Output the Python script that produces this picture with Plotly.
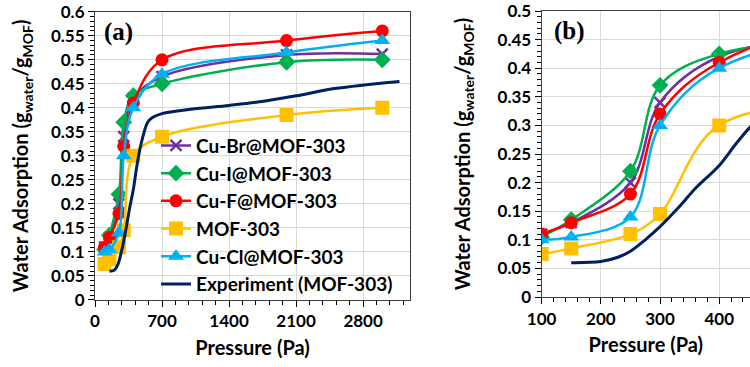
import plotly.graph_objects as go

# ---- data ----
pressure = [100, 150, 250, 300, 400, 700, 2000, 3000]
cu_br = [0.11, 0.13, 0.20, 0.34, 0.42, 0.465, 0.51, 0.512]
cu_i = [0.105, 0.135, 0.22, 0.37, 0.425, 0.45, 0.495, 0.50]
cu_f = [0.11, 0.13, 0.18, 0.32, 0.41, 0.50, 0.54, 0.56]
mof303 = [0.075, 0.085, 0.11, 0.145, 0.30, 0.34, 0.385, 0.40]
cu_cl = [0.10, 0.105, 0.14, 0.30, 0.40, 0.47, 0.515, 0.54]

exp_p = [150, 200, 230, 250, 275, 300, 330, 360, 400, 430, 455, 500, 550, 600, 700, 1000, 1400, 1700, 2100, 2500, 3180]
exp_v = [0.06, 0.062, 0.07, 0.08, 0.10, 0.123, 0.155, 0.19, 0.23, 0.27, 0.30, 0.34, 0.37, 0.38, 0.388, 0.397, 0.405, 0.412, 0.425, 0.44, 0.455]

y_ticks_a = [0, 0.05, 0.1, 0.15, 0.2, 0.25, 0.3, 0.35, 0.4, 0.45, 0.5, 0.55, 0.6]
y_ticks_b = [0, 0.05, 0.1, 0.15, 0.2, 0.25, 0.3, 0.35, 0.4, 0.45, 0.5]
x_ticks_a = [0, 700, 1400, 2100, 2800]
x_ticks_b = [100, 200, 300, 400]

series = [
    ("Cu-Br@MOF-303", cu_br, "#7030A0", "x-thin", 11),
    ("Cu-I@MOF-303", cu_i, "#00B050", "diamond", 13),
    ("Cu-F@MOF-303", cu_f, "#FF0000", "circle", 13),
    ("MOF-303", mof303, "#FFC000", "square", 14),
    ("Cu-Cl@MOF-303", cu_cl, "#00B0F0", "triangle-up", 14),
]
exp_name = "Experiment (MOF-303)"
exp_color = "#002060"

fig = go.Figure()

for panel, (xa, ya) in enumerate([("x", "y"), ("x2", "y2")]):
    for name, vals, color, sym, size in series:
        marker = dict(symbol=sym, size=size, color=color)
        if sym == "x-thin":
            marker["line"] = dict(color=color, width=2.5)
        fig.add_trace(go.Scatter(
            x=pressure, y=vals, name=name, mode="lines+markers",
            line=dict(color=color, width=2.5, shape="spline", smoothing=1),
            marker=marker, xaxis=xa, yaxis=ya, showlegend=(panel == 0),
        ))
    fig.add_trace(go.Scatter(
        x=exp_p, y=exp_v, name=exp_name, mode="lines",
        line=dict(color=exp_color, width=3, shape="spline", smoothing=1),
        xaxis=xa, yaxis=ya, showlegend=(panel == 0),
    ))

tickfont = dict(family="Lato", size=17, color="black", weight="bold")
titlefont = dict(family="Lato", size=20, color="black", weight="bold")
grid = "#D9D9D9"

common = dict(showgrid=True, gridcolor=grid, gridwidth=1, zeroline=False,
              showline=True, linecolor="#404040", linewidth=1.2, mirror=True,
              ticks="outside", ticklen=6, tickcolor="black", tickwidth=1.2,
              tickfont=tickfont, title_font=titlefont, automargin=False,
              ticklabeloverflow="allow")

ytitle = "Water Adsorption (g<sub>water</sub>/g<sub>MOF</sub>)"

def fmt(v):
    return "0" if v == 0 else ("%g" % v)

fig.update_layout(
    width=750, height=367,
    margin=dict(l=0, r=0, t=0, b=0),
    paper_bgcolor="white", plot_bgcolor="white",
    xaxis=dict(common, domain=[0.1267, 0.5467], range=[0, 3290], anchor="y",
               tickvals=x_ticks_a, ticktext=[fmt(v) for v in x_ticks_a],
               minor=dict(dtick=140, tick0=0, ticks="outside", ticklen=4, tickcolor="black", showgrid=False),
               title=dict(text="Pressure (Pa)", standoff=10)),
    yaxis=dict(common, domain=[0.1826, 0.968], range=[0, 0.6], anchor="x",
               tickvals=y_ticks_a, ticktext=[fmt(v) for v in y_ticks_a],
               minor=dict(dtick=0.01, tick0=0, ticks="outside", ticklen=4, tickcolor="black", showgrid=False),
               title=dict(text=ytitle, standoff=16)),
    xaxis2=dict(common, domain=[0.7222, 1.0], range=[100, 452], anchor="y2",
                tickvals=x_ticks_b, ticktext=[fmt(v) for v in x_ticks_b],
                minor=dict(dtick=20, tick0=100, ticks="outside", ticklen=4, tickcolor="black", showgrid=False),
                title=dict(text="Pressure (Pa)", standoff=10)),
    yaxis2=dict(common, domain=[0.1907, 0.970], range=[0, 0.5], anchor="x2",
                tickvals=y_ticks_b, ticktext=[fmt(v) for v in y_ticks_b],
                minor=dict(dtick=0.01, tick0=0, ticks="outside", ticklen=4, tickcolor="black", showgrid=False),
                title=dict(text=ytitle, standoff=21)),
    legend=dict(x=0.208, y=0.655, xanchor="left", yanchor="top",
                bgcolor="rgba(0,0,0,0)", font=dict(family="Lato", size=19, color="black", weight="bold"),
                tracegroupgap=0, itemwidth=30),
    annotations=[
        dict(text="(a)", x=0.136, y=0.913, xref="paper", yref="paper", xanchor="left", yanchor="middle",
             showarrow=False, font=dict(family="Liberation Serif", size=25, color="black", weight="bold")),
        dict(text="(b)", x=0.736, y=0.915, xref="paper", yref="paper", xanchor="left", yanchor="middle",
             showarrow=False, font=dict(family="Liberation Serif", size=25, color="black", weight="bold")),
    ],
)

fig.write_html("out.html")
